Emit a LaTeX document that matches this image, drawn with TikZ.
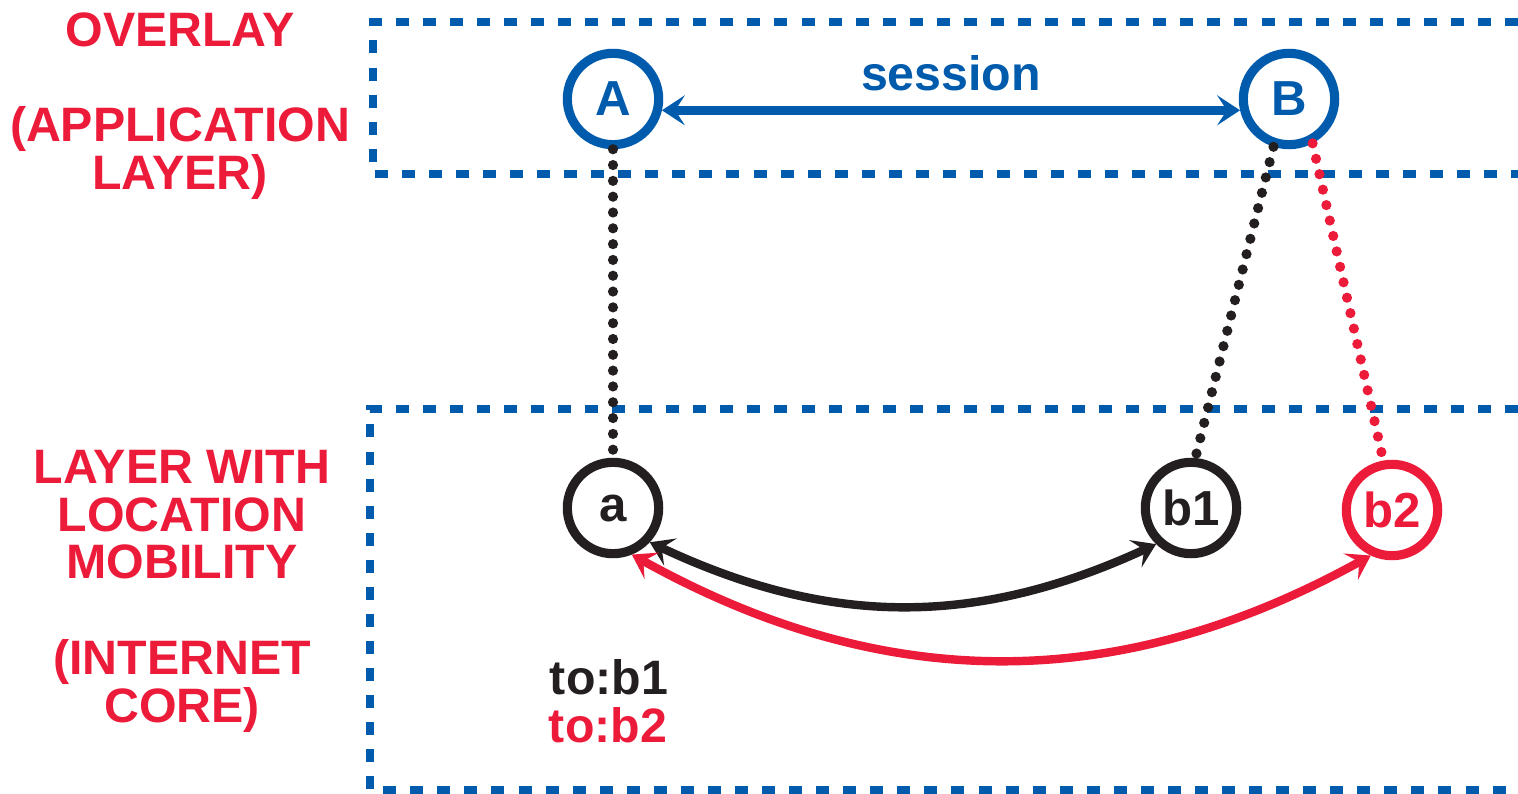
\documentclass[tikz,border=0pt]{standalone}
\usepackage{fontspec}
\setmainfont{Liberation Sans}
\usetikzlibrary{arrows.meta}

\definecolor{layerblue}{HTML}{005BAC}
\definecolor{layerred}{HTML}{ED1B3A}
\definecolor{hostblack}{HTML}{231F20}

\tikzset{
  layer box/.style={
    draw = layerblue,
    line width = 4.6pt,
    dash pattern = on 7.4pt off 8pt,
  },
  layer label/.style={
    text = layerred,
    align = center,
    font = \fontsize{27.5}{27}\selectfont\bfseries,
  },
  host/.style={
    circle,
    draw = #1,
    text = #1,
    line width = 5.2pt,
    minimum size = 52pt,
    inner sep = 0pt,
    font = \fontsize{28}{28}\selectfont\bfseries,
  },
  binding/.style={
    draw = #1,
    line width = 5.8pt,
    line cap = round,
    dash pattern = on 0pt off 9pt,
  },
  link/.style={
    draw = #1,
    line width = 4.8pt,
    {Stealth[length=13pt,width=17pt,inset=5.5pt]}-{Stealth[length=13pt,width=17pt,inset=5.5pt]},
  },
}

\begin{document}
\begin{tikzpicture}[x=0.02cm, y=-0.02cm]
            \useasboundingbox (0,0) rectangle (1518,794);

            % the two layers, open on the right
            \draw[layer box] (1518,22) -- (373,22) -- (373,174) -- (1518,174);
            \draw[layer box] (1518,409) -- (370,409) -- (370,790) -- (1518,790);

            \node[layer label] (overlaytitle) at (180,30) {OVERLAY};
            \node[layer label] (overlaysub) at (180,153) {(APPLICATION\\LAYER)};
            \node[layer label] (coretitle) at (182,515) {LAYER WITH\\LOCATION\\MOBILITY};
            \node[layer label] (coresub) at (182,686) {(INTERNET\\CORE)};

            % overlay nodes
            \node[host=layerblue] (appA) at (613,99) {A};
            \node[host=layerblue] (appB) at (1289,99) {B};

            % core nodes
            \node[host=hostblack] (hosta) at (613,508) {a};
            \node[host=hostblack] (hostbone) at (1191,508) {b1};
            \node[host=layerred] (hostbtwo) at (1392,510) {b2};

            \draw[link=layerblue] (appA.-13) -- (appB.193)
              node[midway, above=5.5pt, text=layerblue, font=\fontsize{27.5}{27.5}\selectfont\bfseries] (session) {session};

            \draw[binding=hostblack] (appA.south) -- (hosta.north);
            \draw[binding=hostblack] (appB.-108) -- (hostbone.85);
            \draw[binding=layerred] (appB.-62) -- (hostbtwo.100);

            \draw[link=hostblack] (hosta.-43) to[bend right=25] (hostbone.-134);
            \draw[link=layerred] (hosta.-68) to[bend right=29] (hostbtwo.-115);

            \node[text=hostblack, font=\fontsize{27.5}{27.5}\selectfont\bfseries] (tobone) at (609,677) {to:b1};
            \node[text=layerred, font=\fontsize{27.5}{27.5}\selectfont\bfseries] (tobtwo) at (608,725) {to:b2};
        \end{tikzpicture}
\end{document}
